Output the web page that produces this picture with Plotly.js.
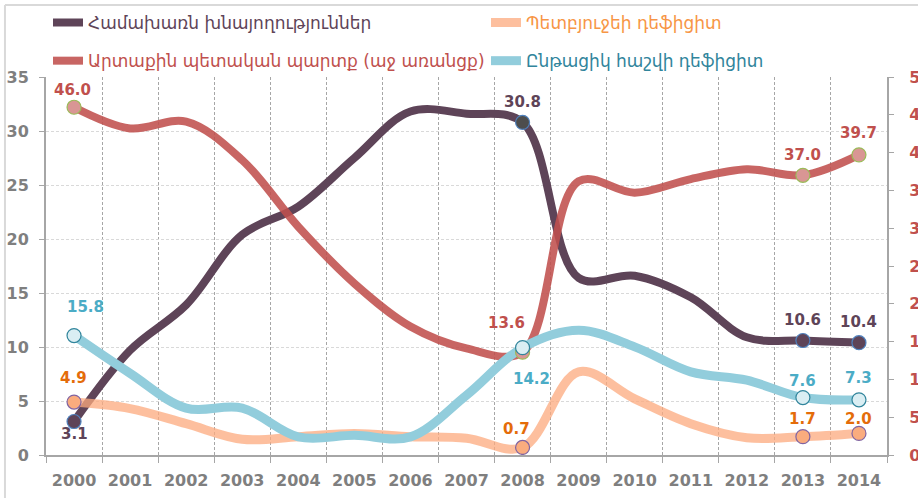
<!DOCTYPE html>
<html>
<head>
<meta charset="utf-8">
<script src="https://cdn.plot.ly/plotly-3.0.1.min.js"></script>
<style>html,body{margin:0;padding:0;background:#fff;}#chart{width:918px;height:498px;}</style>
</head>
<body>
<div id="chart"></div>
<script>
// ---- data ----
const years = ['2000','2001','2002','2003','2004','2005','2006','2007','2008','2009','2010','2011','2012','2013','2014'];
const savingName = 'Համախառն խնայողություններ';
const debtName = 'Արտաքին պետական պարտք (աջ առանցք)';
const budgetName = 'Պետբյուջեի դեֆիցիտ';
const caName = 'Ընթացիկ հաշվի դեֆիցիտ';
const saving = [3.1, 9.7, 13.9, 20.4, 23.0, 27.5, 31.8, 31.6, 30.8, 16.4, 16.6, 14.6, 10.9, 10.6, 10.4];
const debt   = [46.0, 43.2, 44.1, 39.0, 30.2, 22.7, 17.0, 14.1, 13.6, 36.2, 34.7, 36.5, 37.8, 37.0, 39.7];
const budget = [4.9, 4.3, 2.9, 1.45, 1.7, 2.0, 1.7, 1.55, 0.7, 7.7, 5.2, 2.9, 1.6, 1.7, 2.0];
const ca     = [15.8, 10.8, 6.2, 6.2, 2.4, 2.6, 2.4, 7.9, 14.2, 16.5, 14.3, 11.0, 9.9, 7.6, 7.3];
const leftTicks = [0, 5, 10, 15, 20, 25, 30, 35];
const rightTicks = [0, 5, 10, 15, 20, 25, 30, 35, 40, 45, 50];
// indices of the labelled points
const savingPts = [0, 8, 13, 14];
const debtPts = [0, 8, 13, 14];
const budgetPts = [0, 8, 13, 14];
const caPts = [0, 8, 13, 14];

// ---- styles ----
const C = {
  saving: '#5E4458', debt: 'rgba(192,80,77,0.88)', budget: 'rgba(252,170,125,0.75)', ca: '#92CDDC',
  savingLbl: '#5E4458', debtLbl: '#C0504D', budgetLbl: '#E46C0A', caLbl: '#4BACC6',
  savingLeg: '#5E4458', debtLeg: '#C0504D', budgetLeg: '#F79646', caLeg: '#31859C'
};
const savingOff = [[0,-12],[0,20],[0,21],[0,21]];
const debtOff = [[-2,17],[-16,29],[0,20],[0,22]];
const budgetOff = [[-1,24],[-6,18],[0,18],[0,14]];
const caOff = [[11,29],[9,-31],[0,17],[0,22]];

const pick = (arr, idx) => idx.map(i => arr[i]);

function line(name, y, color, width, yaxis, legend) {
  return {type:'scatter', mode:'lines', x: years, y: y, name: name, yaxis: yaxis, legend: legend,
    line:{color: color, width: width, shape:'spline', smoothing: 1}, hoverinfo:'skip'};
}
function marks(y, idx, yaxis, fill, outline) {
  return {type:'scatter', mode:'markers', x: pick(years, idx), y: pick(y, idx), yaxis: yaxis, showlegend:false,
    marker:{size:14, color: fill, line:{color: outline, width:1.2}}, hoverinfo:'skip'};
}

const traces = [
  line(savingName, saving, C.saving, 8, 'y', 'legend'),
  line(debtName, debt, C.debt, 8, 'y2', 'legend3'),
  line(budgetName, budget, C.budget, 9, 'y', 'legend2'),
  line(caName, ca, C.ca, 9, 'y2', 'legend4'),
  marks(debt, debtPts, 'y2', '#D99694', '#9BBB59'),
  marks(ca, caPts, 'y2', '#DAEEF3', '#31859C'),
  marks(saving, savingPts, 'y', ['#5E4458','#4D4D4D','#5E4458','#5E4458'], '#4F81BD'),
  marks(budget, budgetPts, 'y', '#FAAC7E', '#8064A2'),
];

const lblFont = (c) => ({family:'DejaVu Sans, Verdana, sans-serif', size:15, color:c, weight:'bold'});
const annotations = [];
function addLabels(vals, idx, yref, color, off) {
  idx.forEach((i, k) => {
    // x given as the category index on the category axis
    annotations.push({x: i, y: vals[i], xref:'x', yref: yref, text: vals[i].toFixed(1),
      showarrow:false, xshift: off[k][0], yshift: off[k][1], font: lblFont(color)});
  });
}
addLabels(debt, debtPts, 'y2', C.debtLbl, debtOff);
addLabels(saving, savingPts, 'y', C.savingLbl, savingOff);
addLabels(ca, caPts, 'y2', C.caLbl, caOff);
addLabels(budget, budgetPts, 'y', C.budgetLbl, budgetOff);

const tickFont = (c) => ({family:'DejaVu Sans, Verdana, sans-serif', size:16, color:c, weight:'bold'});
const legFont = (c) => ({family:'DejaVu Sans, sans-serif', size:17, color:c});
const legBase = {orientation:'h', xanchor:'left', yanchor:'middle', bgcolor:'rgba(0,0,0,0)', borderwidth:0,
  itemwidth:30, tracegroupgap:0};

const layout = {
  width:918, height:498,
  margin:{l:46, r:31, t:77, b:43, autoexpand:false},
  paper_bgcolor:'#fff', plot_bgcolor:'#fff',
  showlegend:true,
  legend: Object.assign({}, legBase, {x:0.0024, y:1.143, font: legFont(C.savingLeg)}),
  legend2: Object.assign({}, legBase, {x:0.5232, y:1.143, font: legFont(C.budgetLeg)}),
  legend3: Object.assign({}, legBase, {x:0.0024, y:1.042, font: legFont(C.debtLeg)}),
  legend4: Object.assign({}, legBase, {x:0.5232, y:1.042, font: legFont(C.caLeg)}),
  xaxis:{type:'category', range:[-0.5, 14.5], tickson:'boundaries', showgrid:true, gridcolor:'#A6A6A6',
    griddash:'3px,2px', gridwidth:1, showline:true, linecolor:'#A6A6A6', linewidth:2,
    ticks:'outside', ticklen:6, tickcolor:'#A6A6A6', tickfont: tickFont('#7F7F7F'), ticklabelstandoff:10,
    zeroline:false},
  yaxis:{range:[0,35], tickvals: leftTicks, showgrid:true, gridcolor:'#D9D9D9', griddash:'3px,2px', gridwidth:1,
    showline:true, linecolor:'#A6A6A6', linewidth:2, ticks:'outside', ticklen:5, tickcolor:'#A6A6A6',
    tickfont: tickFont('#7F7F7F'), ticklabelstandoff:7, zeroline:false},
  yaxis2:{range:[0,50], tickvals: rightTicks, overlaying:'y', side:'right', showgrid:false,
    showline:true, linecolor:'#A6A6A6', linewidth:2, ticks:'outside', ticklen:5, tickcolor:'#A6A6A6',
    tickfont: tickFont('#C0504D'), ticklabelstandoff:12, zeroline:false},
  annotations: annotations,
  shapes:[
    {type:'line', xref:'paper', yref:'paper', x0:-0.0488, x1:1.2, y0:1.1905, y1:1.1905, line:{color:'#D9D9D9', width:2}},
    {type:'line', xref:'paper', yref:'paper', x0:-0.0488, x1:-0.0488, y0:1.1905, y1:-0.3, line:{color:'#D9D9D9', width:2}}
  ]
};

Plotly.newPlot('chart', traces, layout, {displayModeBar:false, staticPlot:true});
</script>
</body>
</html>
